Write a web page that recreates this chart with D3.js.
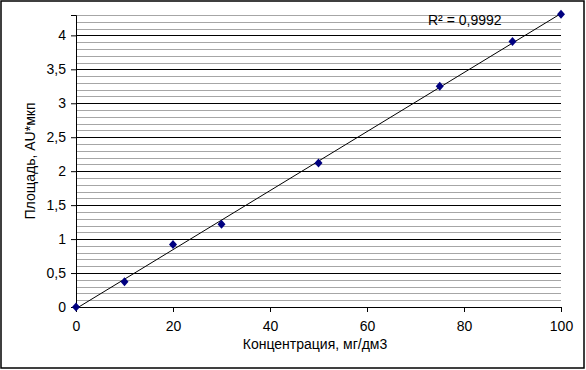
<html lang="ru">
<head>
<meta charset="UTF-8">
<script src="https://d3js.org/d3.v7.min.js"></script>
<style>
  body { margin: 0; background: #fff; }
  text { font-family: "Liberation Sans", Arial, sans-serif; font-size: 14px; fill: #000; }
</style>
</head>
<body>
<svg width="586" height="370"></svg>
<script>
const conc = [0, 10, 20, 30, 50, 75, 90, 100];
const area = [0, 0.37, 0.92, 1.22, 2.12, 3.25, 3.91, 4.31];
const xTicks = [0, 20, 40, 60, 80, 100];
const yTicks = [0, 0.5, 1, 1.5, 2, 2.5, 3, 3.5, 4];
const r2Label = "R² = 0,9992";

const margin = {top: 15, right: 25, bottom: 63, left: 76},
      width = 586 - margin.left - margin.right,
      height = 370 - margin.top - margin.bottom;

const svg = d3.select("svg");
svg.append("rect")
    .attr("x", 1).attr("y", 1).attr("width", 583).attr("height", 367)
    .attr("fill", "#fff").attr("stroke", "#000").attr("stroke-width", 1.5);

const g = svg.append("g").attr("transform", `translate(${margin.left},${margin.top})`);

const x = d3.scaleLinear().domain([0, 100]).range([0, width]);
const y = d3.scaleLinear().domain([0, 4.3]).range([height, 0]);

// minor gridlines
const minor = d3.range(1, 44).map(i => i / 10).filter(v => Math.round(v * 10) % 5 !== 0);
g.selectAll(".minor").data(minor).join("line")
    .attr("x1", 0).attr("x2", width)
    .attr("y1", d => Math.round(y(d)) + 0.5).attr("y2", d => Math.round(y(d)) + 0.5)
    .attr("stroke", "#a6a6a6").attr("stroke-width", 1);

// major gridlines
g.selectAll(".major").data(yTicks.slice(1)).join("line")
    .attr("x1", 0).attr("x2", width)
    .attr("y1", d => Math.round(y(d)) + 0.5).attr("y2", d => Math.round(y(d)) + 0.5)
    .attr("stroke", "#000").attr("stroke-width", 1);

// axes
const yAxis = g.append("g")
    .call(d3.axisLeft(y).tickValues(yTicks).tickSize(5).tickPadding(5)
        .tickFormat(d => String(d).replace(".", ",")));
const xAxis = g.append("g")
    .attr("transform", `translate(0,${height})`)
    .call(d3.axisBottom(x).tickValues(xTicks).tickSize(5).tickPadding(5));
[yAxis, xAxis].forEach(a => {
  a.select(".domain").attr("stroke", "#000");
  a.selectAll("text").style("font-size", "14px").attr("fill", "#000")
    .style("font-family", "'Liberation Sans', Arial, sans-serif");
});
xAxis.selectAll("text").attr("dy", "1em");

// linear trendline (least squares)
const mx = d3.mean(conc), my = d3.mean(area);
const slope = d3.sum(conc, (c, i) => (c - mx) * (area[i] - my)) / d3.sum(conc, c => (c - mx) ** 2);
const icpt = my - slope * mx;
g.append("line")
    .attr("x1", x(0)).attr("y1", y(icpt))
    .attr("x2", x(100)).attr("y2", y(icpt + slope * 100))
    .attr("stroke", "#000").attr("stroke-width", 1);

// markers
g.selectAll(".pt").data(conc).join("path")
    .attr("transform", (d, i) => `translate(${x(d)},${y(area[i])})`)
    .attr("d", "M0,-4.5L4,0L0,4.5L-4,0Z")
    .attr("fill", "#000080");

g.append("text")
    .attr("x", 352).attr("y", 10)
    .text(r2Label);

svg.append("text")
    .attr("x", 315).attr("y", 349)
    .attr("text-anchor", "middle")
    .text("Концентрация, мг/дм3");

svg.append("text")
    .attr("transform", `translate(35,${margin.top + height / 2}) rotate(-90)`)
    .attr("text-anchor", "middle")
    .text("Площадь, AU*мкп");
</script>
</body>
</html>
